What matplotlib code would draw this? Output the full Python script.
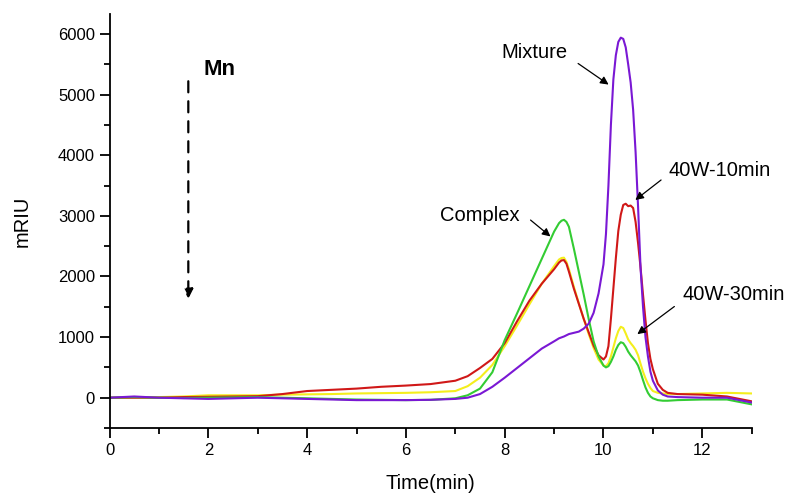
import matplotlib
matplotlib.use("Agg")
import matplotlib.pyplot as plt

plt.rcParams['font.family'] = ['Liberation Sans', 'DejaVu Sans']

time = [0, 0.5, 1, 1.5, 2, 2.5, 3, 3.5, 4, 4.5, 5, 5.5, 6, 6.5, 7, 7.25, 7.5, 7.75,
        8, 8.25, 8.5, 8.75, 9, 9.1, 9.15, 9.2, 9.25, 9.3, 9.4, 9.5, 9.6, 9.7, 9.8, 9.9,
        10, 10.05, 10.1, 10.15, 10.2, 10.25, 10.3, 10.35, 10.4, 10.45, 10.5, 10.55,
        10.6, 10.65, 10.7, 10.75, 10.8, 10.85, 10.9, 10.95, 11, 11.1, 11.2, 11.3,
        11.5, 12, 12.5, 13]

complex_ = [0, 10, 0, -5, 0, 5, 10, 0, -10, -20, -30, -35, -40, -35, -10, 40, 150, 420,
            950, 1390, 1840, 2290, 2740, 2880, 2920, 2935, 2900, 2820, 2460, 2080, 1700, 1300, 930, 680,
            530, 500, 520, 590, 680, 790, 870, 915, 900, 840, 760, 700,
            650, 600, 530, 420, 290, 170, 80, 20, -10, -40, -50, -50,
            -40, -30, -30, -110]

w10min = [0, 0, 0, 10, 15, 20, 25, 60, 110, 130, 150, 180, 200, 225, 280, 355, 490, 640,
          900, 1260, 1600, 1880, 2120, 2230, 2265, 2270, 2210, 2080, 1800, 1550, 1300, 1080, 860, 700,
          630, 680, 850, 1300, 1800, 2300, 2750, 3020, 3180, 3200, 3160, 3170,
          3130, 2900, 2550, 2150, 1700, 1280, 900, 640, 470, 230, 130, 80,
          60, 50, 20, -60]

w30min = [0, 5, 10, 20, 40, 40, 40, 50, 55, 60, 70, 75, 80, 90, 110, 190, 330, 540,
          850, 1190, 1540, 1880, 2170, 2280, 2305, 2310, 2240, 2120, 1830, 1560, 1300, 1050, 820, 630,
          530, 520, 570, 680, 830, 980, 1100, 1170, 1150, 1060, 960, 900,
          850, 790, 700, 560, 430, 320, 230, 160, 110, 80, 70, 60,
          60, 70, 80, 70]

mixture = [0, 20, 0, -10, -20, -10, 0, -10, -20, -30, -40, -40, -40, -35, -20, 0, 60, 180,
           330, 490, 650, 810, 930, 980, 995, 1010, 1030, 1050, 1070, 1090, 1140, 1220, 1400, 1720,
           2200, 2700, 3500, 4500, 5250, 5650, 5870, 5940, 5920, 5780, 5500, 5200,
           4750, 4050, 3150, 2150, 1500, 1000, 680, 430, 280, 120, 50, 20,
           10, 0, 0, -80]

fig = plt.figure(figsize=(8, 5.01), dpi=100)
ax = fig.add_axes([0.1369, 0.1457, 0.8027, 0.8263])

ax.plot(time, w30min, color='#f4ee1c', lw=1.5)
ax.plot(time, w10min, color='#d01818', lw=1.5)
ax.plot(time, complex_, color='#33cc33', lw=1.5)
ax.plot(time, mixture, color='#7a18d4', lw=1.5)

ax.set_xlim(0, 13)
ax.set_ylim(-500, 6330)
ax.set_xticks([0, 2, 4, 6, 8, 10, 12])
ax.set_xticks([1, 3, 5, 7, 9, 11, 13], minor=True)
ax.set_yticks([0, 1000, 2000, 3000, 4000, 5000, 6000])
ax.set_yticks([-500, 500, 1500, 2500, 3500, 4500, 5500], minor=True)
ax.tick_params(which='major', direction='out', length=7, width=1.3, labelsize=12)
ax.tick_params(which='minor', direction='out', length=4, width=1.3)
for s in ['top', 'right']:
    ax.spines[s].set_visible(False)
for s in ['left', 'bottom']:
    ax.spines[s].set_linewidth(1.3)

ax.set_xlabel('Time(min)', fontsize=14.5, labelpad=12)
ax.set_ylabel('mRIU', fontsize=14.5, labelpad=19)

arw = dict(arrowstyle='-|>', color='black', lw=0.9, mutation_scale=12)
ax.annotate('', xy=(10.15, 5140), xytext=(9.44, 5540), arrowprops=arw)
ax.text(7.94, 5689, 'Mixture', fontsize=14.5, va='center', ha='left')
ax.annotate('', xy=(10.60, 3234), xytext=(11.21, 3620), arrowprops=arw)
ax.text(11.31, 3756, '40W-10min', fontsize=14.5, va='center', ha='left')
ax.annotate('', xy=(8.97, 2631), xytext=(8.48, 2960), arrowprops=arw)
ax.text(6.69, 2998, 'Complex', fontsize=14.5, va='center', ha='left')
ax.annotate('', xy=(10.64, 1021), xytext=(11.48, 1532), arrowprops=arw)
ax.text(11.60, 1697, '40W-30min', fontsize=14.5, va='center', ha='left')

ax.annotate('', xy=(1.595, 1586), xytext=(1.595, 5267),
            arrowprops=dict(arrowstyle='-|>', color='black', lw=1.6, ls=(0, (5, 4)),
                            mutation_scale=14))
ax.text(1.91, 5420, 'Mn', fontsize=16, fontweight='bold', va='center', ha='left')

fig.savefig('out.png', dpi=100)
